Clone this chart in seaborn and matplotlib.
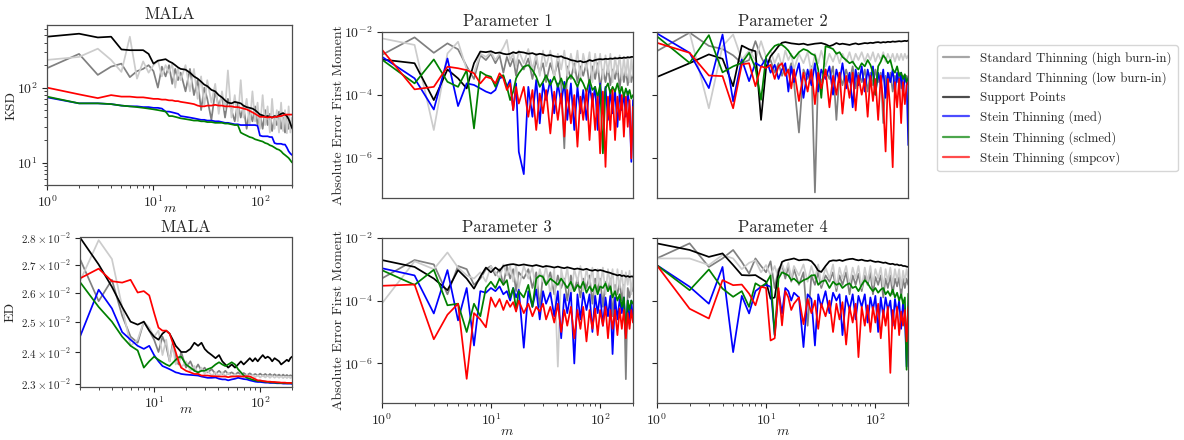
import numpy as np
import pandas as pd
import matplotlib
matplotlib.use("Agg")
import matplotlib.pyplot as plt
import seaborn as sns
from matplotlib.lines import Line2D
from matplotlib.ticker import FixedLocator, FixedFormatter, NullLocator, NullFormatter

# ---------------- data ----------------
METHODS = ["Standard Thinning (high burn-in)", "Standard Thinning (low burn-in)",
           "Support Points", "Stein Thinning (med)", "Stein Thinning (sclmed)",
           "Stein Thinning (smpcov)"]
COLORS = ["#808080", "#cccccc", "#000000", "#0000ff", "#008000", "#ff0000"]

# number of selected points m
M = [1, 2, 3, 4, 5, 6, 7, 8, 9, 10, 11, 12, 13, 14, 15, 16, 17, 18,
     20, 22, 24, 26, 28, 30, 32,
     35, 38, 41, 44, 47, 50,
     54, 58, 62, 66, 70,
     75, 80, 85, 90, 95, 100,
     106, 112, 118, 124, 130,
     137, 144, 151, 158, 165, 172, 179, 186, 193, 200]
M_ED = M[1:]

# KSD (MALA), log10 units
ksd_high = [2.26, 2.45, 2.17, 2.28, 2.32, 2.14, 2.22, 2.25, 2.3, 2.22, 2.0, 2.28, 2.15, 2.3, 2.05, 2.25, 2.1, 2.2,
            1.95, 2.25, 1.9, 2.1, 1.7, 2.0, 1.85,
            1.57, 1.95, 1.75, 1.9, 1.6, 1.85,
            1.7, 1.55, 1.8, 1.6, 1.75,
            1.45, 1.7, 1.55, 1.75, 1.5, 1.65,
            1.45, 1.7, 1.5, 1.65, 1.42,
            1.6, 1.5, 1.68, 1.45, 1.6, 1.4, 1.62, 1.45, 1.55, 1.45]
ksd_low = [2.37, 2.41, 2.52, 2.37, 2.21, 2.68, 2.12, 2.35, 2.2, 2.3, 2.36, 2.15, 2.3, 2.2, 2.32, 2.0, 2.25, 2.1,
           2.3, 1.95, 2.25, 1.85, 2.15, 1.75, 2.1,
           1.8, 2.05, 1.65, 1.95, 1.7, 2.23,
           1.6, 1.9, 1.55, 2.1, 1.6,
           1.85, 1.5, 1.95, 1.55, 1.8, 1.45,
           1.9, 1.5, 1.75, 1.4, 1.85,
           1.45, 1.7, 1.4, 1.8, 1.42, 1.7, 1.39, 1.75, 1.4, 1.6]
ksd_sp = [2.68, 2.72, 2.67, 2.68, 2.51, 2.5, 2.5, 2.5, 2.45, 2.32, 2.36, 2.37, 2.38, 2.35, 2.33, 2.3, 2.27, 2.25,
          2.24, 2.2, 2.15, 2.12, 2.08, 2.04, 2.02,
          1.97, 1.95, 1.9, 1.87, 1.83, 1.8,
          1.79, 1.81, 1.8, 1.79, 1.76,
          1.74, 1.73, 1.72, 1.7, 1.67, 1.64,
          1.63, 1.61, 1.62, 1.61, 1.6,
          1.62, 1.61, 1.63, 1.65, 1.66, 1.64, 1.62, 1.58, 1.52, 1.46]
ksd_med = [1.87, 1.79, 1.79, 1.78, 1.76, 1.75, 1.75, 1.74, 1.74, 1.73, 1.73, 1.72, 1.68, 1.68, 1.67, 1.66, 1.65, 1.62,
           1.61, 1.6, 1.59, 1.58, 1.57, 1.57, 1.56,
           1.56, 1.55, 1.55, 1.54, 1.53, 1.53,
           1.52, 1.51, 1.51, 1.5, 1.5,
           1.5, 1.5, 1.5, 1.5, 1.49, 1.36,
           1.35, 1.35, 1.35, 1.34, 1.34,
           1.26, 1.25, 1.25, 1.25, 1.24, 1.24, 1.2, 1.15, 1.12, 1.1]
ksd_sclmed = [1.88, 1.79, 1.79, 1.78, 1.76, 1.75, 1.74, 1.73, 1.72, 1.71, 1.7, 1.69, 1.68, 1.62, 1.62, 1.61, 1.6, 1.59,
              1.58, 1.57, 1.56, 1.56, 1.55, 1.55, 1.54,
              1.54, 1.53, 1.53, 1.53, 1.52, 1.52,
              1.51, 1.5, 1.5, 1.4, 1.38,
              1.36, 1.34, 1.33, 1.31, 1.3, 1.29,
              1.28, 1.26, 1.25, 1.23, 1.22,
              1.2, 1.18, 1.17, 1.15, 1.12, 1.1, 1.08, 1.06, 1.03, 1.0]
ksd_smpcov = [2.0, 1.91, 1.86, 1.9, 1.88, 1.88, 1.87, 1.87, 1.86, 1.85, 1.85, 1.84, 1.84, 1.83, 1.83, 1.82, 1.82, 1.81,
              1.8, 1.79, 1.78, 1.76, 1.75, 1.75, 1.76,
              1.76, 1.77, 1.76, 1.76, 1.75, 1.75,
              1.75, 1.74, 1.74, 1.73, 1.72,
              1.71, 1.69, 1.67, 1.65, 1.63, 1.61,
              1.61, 1.61, 1.6, 1.61, 1.6,
              1.61, 1.61, 1.62, 1.62, 1.63, 1.64, 1.64, 1.64, 1.64, 1.64]

# ED (MALA), in units of 1e-2, from m = 2
ed_high = [2.72, 2.57, 2.645, 2.52, 2.45, 2.43, 2.50, 2.47, 2.44, 2.40, 2.45, 2.42, 2.37, 2.43, 2.38, 2.36, 2.40,
           2.35, 2.37, 2.34, 2.36, 2.34, 2.35, 2.335,
           2.345, 2.33, 2.34, 2.33, 2.34, 2.33,
           2.335, 2.328, 2.335, 2.327, 2.333,
           2.326, 2.332, 2.326, 2.33, 2.325, 2.331,
           2.325, 2.33, 2.324, 2.33, 2.324,
           2.329, 2.324, 2.328, 2.323, 2.328, 2.323, 2.327, 2.323, 2.326, 2.324]
ed_low = [2.64, 2.79, 2.72, 2.55, 2.42, 2.44, 2.50, 2.48, 2.45, 2.47, 2.39, 2.44, 2.37, 2.42, 2.36, 2.38, 2.35,
          2.37, 2.34, 2.355, 2.33, 2.35, 2.33, 2.34,
          2.325, 2.335, 2.325, 2.335, 2.323, 2.333,
          2.322, 2.33, 2.322, 2.33, 2.32,
          2.328, 2.32, 2.327, 2.32, 2.326, 2.319,
          2.325, 2.319, 2.325, 2.318, 2.324,
          2.318, 2.323, 2.318, 2.323, 2.317, 2.322, 2.317, 2.322, 2.317, 2.32]
ed_sp = [2.80, 2.70, 2.62, 2.55, 2.50, 2.49, 2.50, 2.47, 2.45, 2.44, 2.46, 2.47, 2.46, 2.44, 2.42, 2.41, 2.40,
         2.40, 2.41, 2.43, 2.42, 2.43, 2.41, 2.40,
         2.39, 2.38, 2.39, 2.37, 2.36, 2.35,
         2.36, 2.35, 2.36, 2.37, 2.36,
         2.37, 2.38, 2.37, 2.38, 2.37, 2.38,
         2.39, 2.38, 2.385, 2.38, 2.37,
         2.38, 2.375, 2.37, 2.36, 2.365, 2.37, 2.375, 2.37, 2.38, 2.385]
ed_med = [2.45, 2.61, 2.545, 2.465, 2.44, 2.42, 2.41, 2.42, 2.39, 2.37, 2.355, 2.35, 2.345, 2.34, 2.335, 2.333, 2.33,
          2.328, 2.327, 2.326, 2.325, 2.322, 2.32, 2.318,
          2.318, 2.319, 2.315, 2.313, 2.313, 2.31,
          2.313, 2.315, 2.318, 2.316, 2.314,
          2.313, 2.31, 2.308, 2.306, 2.305, 2.305,
          2.304, 2.303, 2.303, 2.302, 2.302,
          2.302, 2.301, 2.301, 2.301, 2.300, 2.300, 2.300, 2.300, 2.300, 2.299]
ed_sclmed = [2.637, 2.55, 2.50, 2.45, 2.42, 2.405, 2.35, 2.37, 2.385, 2.375, 2.367, 2.36, 2.355, 2.365, 2.375, 2.383, 2.385,
             2.36, 2.35, 2.34, 2.335, 2.34, 2.34, 2.345,
             2.35, 2.36, 2.367, 2.36, 2.355, 2.36,
             2.367, 2.36, 2.345, 2.335, 2.325,
             2.318, 2.315, 2.312, 2.31, 2.308, 2.308,
             2.307, 2.306, 2.305, 2.304, 2.304,
             2.303, 2.303, 2.302, 2.302, 2.302, 2.302, 2.301, 2.301, 2.301, 2.301]
ed_smpcov = [2.65, 2.685, 2.64, 2.635, 2.645, 2.60, 2.605, 2.59, 2.53, 2.48, 2.47, 2.47, 2.46, 2.43, 2.40, 2.37, 2.35,
             2.34, 2.335, 2.33, 2.33, 2.325, 2.325, 2.325,
             2.323, 2.323, 2.322, 2.322, 2.322, 2.32,
             2.322, 2.322, 2.323, 2.322, 2.322,
             2.323, 2.322, 2.318, 2.314, 2.31, 2.31,
             2.308, 2.307, 2.306, 2.306, 2.305,
             2.305, 2.304, 2.304, 2.303, 2.303, 2.303, 2.302, 2.302, 2.302, 2.302]

# Absolute error of first moment, log10 units
p1_high = [-2.74, -2.18, -2.67, -2.37, -2.56, -3.1, -3.5, -2.75, -2.9, -2.7, -3.0, -2.75, -3.3, -2.8, -3.1, -2.85, -3.4, -2.9,
           -3.2, -2.85, -3.5, -2.9, -3.3, -3.0, -3.6,
           -3.0, -3.4, -2.95, -3.7, -5.7, -3.1,
           -3.5, -3.0, -3.6, -3.1, -3.4,
           -3.0, -3.7, -3.1, -3.5, -3.0, -3.8,
           -3.2, -3.6, -3.1, -3.7, -3.2,
           -3.5, -3.1, -3.8, -3.2, -3.6, -3.2, -3.7, -3.3, -3.6, -3.3]
p1_low = [-2.21, -2.42, -5.12, -2.69, -2.32, -3.2, -3.3, -2.7, -2.8, -2.65, -2.9, -2.7, -2.5, -2.26, -2.9, -2.7, -3.1, -2.6,
          -3.0, -2.55, -3.2, -2.7, -3.4, -2.6, -3.1,
          -2.6, -3.5, -2.7, -3.2, -2.6, -3.4,
          -2.7, -3.3, -2.6, -3.5, -2.7,
          -3.2, -2.65, -3.6, -2.7, -3.3, -2.7,
          -3.5, -2.75, -3.3, -2.7, -3.6,
          -2.8, -3.3, -2.75, -3.5, -2.8, -3.4, -2.8, -3.6, -2.85, -3.4]
p1_sp = [-2.88, -3.0, -4.17, -3.2, -3.48, -3.8, -3.0, -2.63, -2.65, -2.62, -2.68, -2.66, -2.7, -2.72, -2.7, -2.65, -2.68, -2.64,
         -2.66, -2.7, -2.68, -2.73, -2.7, -2.72, -2.76,
         -2.74, -2.78, -2.8, -2.78, -2.83, -2.85,
         -2.9, -2.92, -2.95, -2.93, -2.97,
         -2.95, -2.9, -2.93, -2.9, -2.88, -2.87,
         -2.88, -2.86, -2.87, -2.85, -2.86,
         -2.84, -2.85, -2.83, -2.84, -2.82, -2.83, -2.81, -2.82, -2.8, -2.8]
p1_med = [-2.79, -3.48, -4.47, -2.85, -4.36, -3.64, -3.69, -3.80, -3.90, -3.96, -3.85, -3.48, -3.43, -3.75, -3.53, -4.49, -3.64, -5.81,
          -6.52, -3.75, -4.70, -3.53, -4.91, -3.64, -4.17,
          -3.53, -4.59, -3.64, -4.28, -3.59, -4.80,
          -3.64, -5.12, -3.75, -4.59, -3.85,
          -4.80, -3.69, -4.28, -3.75, -5.12, -3.64,
          -4.49, -3.75, -4.80, -3.85, -4.59,
          -3.85, -5.02, -3.90, -4.49, -3.96, -4.70, -3.90, -4.38, -6.13, -4.17]
p1_sclmed = [-2.88, -3.64, -2.88, -3.59, -3.75, -3.22, -5.07, -3.27, -3.38, -3.43, -3.75, -3.43, -3.38, -3.75, -4.17, -3.90, -3.48, -3.32,
             -3.11, -3.06, -3.22, -3.43, -3.75, -3.59, -3.38,
             -3.69, -3.43, -3.75, -3.48, -3.80, -3.53,
             -3.38, -3.53, -3.75, -3.48, -3.64,
             -3.90, -3.53, -3.85, -3.75, -4.07, -3.69,
             -5.86, -3.80, -3.64, -3.96, -3.75,
             -3.90, -3.64, -3.96, -3.75, -4.07, -3.80, -4.01, -3.85, -4.12, -4.01]
p1_smpcov = [-2.56, -3.83, -3.75, -3.11, -3.16, -3.22, -3.32, -3.64, -3.43, -3.48, -3.64, -3.32, -3.48, -3.85, -3.64, -4.49, -3.75, -4.28,
             -3.75, -4.70, -3.85, -5.12, -3.96, -4.59, -3.85,
             -5.23, -3.90, -4.80, -3.96, -5.33, -3.85,
             -4.91, -4.01, -5.65, -4.06, -4.80,
             -3.85, -5.44, -3.96, -5.12, -4.06, -5.86,
             -3.90, -6.29, -4.06, -5.12, -3.85,
             -5.44, -4.06, -4.80, -4.01, -5.33, -4.06, -5.02, -4.17, -6.02, -4.38]

p2_high = [-2.62, -2.03, -2.45, -2.55, -2.75, -3.0, -2.9, -2.3, -2.8, -3.1, -2.9, -3.3, -3.0, -3.4, -3.1, -3.3, -3.0, -3.6,
           -5.2, -3.2, -3.5, -3.1, -7.1, -3.3, -3.6,
           -3.2, -3.5, -3.1, -4.8, -3.3, -3.7,
           -3.2, -3.6, -3.1, -3.8, -3.3,
           -3.6, -3.2, -3.9, -3.3, -3.7, -3.2,
           -3.6, -3.3, -4.9, -3.4, -3.7,
           -3.3, -3.9, -3.4, -3.6, -3.3, -3.8, -3.4, -3.6, -3.4, -3.5]
p2_low = [-2.03, -2.03, -4.43, -2.46, -2.09, -2.88, -2.6, -2.9, -2.3, -2.8, -2.6, -3.0, -2.7, -3.1, -2.6, -2.9, -2.7, -3.2,
          -2.7, -3.0, -2.65, -3.3, -2.7, -3.0, -2.6,
          -3.1, -2.7, -2.95, -2.65, -3.0, -2.7,
          -2.95, -2.65, -3.0, -2.7, -2.9,
          -2.65, -2.95, -2.7, -2.9, -2.65, -2.95,
          -2.7, -2.9, -2.65, -2.95, -2.7,
          -2.9, -2.7, -2.95, -2.7, -2.9, -2.7, -2.9, -2.7, -2.85, -2.75]
p2_sp = [-3.44, -3.0, -2.72, -2.86, -3.73, -2.44, -2.56, -2.62, -4.8, -3.15, -2.78, -2.62, -2.46, -2.35, -2.33, -2.35, -2.37, -2.38,
         -2.4, -2.38, -2.42, -2.4, -2.38, -2.37, -2.36,
         -2.4, -2.46, -2.42, -2.36, -2.4, -2.38,
         -2.4, -2.42, -2.39, -2.37, -2.4,
         -2.38, -2.36, -2.37, -2.35, -2.36, -2.34,
         -2.33, -2.35, -2.33, -2.34, -2.32,
         -2.33, -2.31, -2.32, -2.31, -2.3, -2.31, -2.3, -2.29, -2.3, -2.28]
p2_med = [-2.05, -2.67, -3.79, -2.09, -4.21, -2.88, -3.57, -2.99, -3.1, -2.85, -3.3, -3.05, -3.5, -3.2, -3.0, -3.9, -3.1, -3.6,
          -3.0, -4.1, -3.2, -3.7, -3.0, -3.9, -3.2,
          -3.5, -3.1, -4.0, -3.2, -3.6, -3.0,
          -3.8, -3.3, -4.4, -3.2, -3.7,
          -3.1, -3.9, -3.2, -3.6, -3.1, -4.0,
          -3.3, -3.7, -3.2, -4.1, -3.3,
          -3.6, -3.2, -3.9, -3.3, -3.7, -3.3, -4.0, -3.4, -3.6, -5.6]
p2_sclmed = [-2.14, -2.99, -2.11, -3.29, -3.1, -2.99, -2.67, -3.15, -4.16, -2.8, -2.6, -2.45, -2.4, -2.42, -2.5, -2.6, -2.75, -2.85,
             -2.65, -2.55, -2.6, -2.7, -2.75, -3.2, -4.1,
             -2.46, -2.5, -2.55, -2.7, -2.65, -2.8,
             -2.9, -3.0, -2.95, -3.1, -3.2,
             -3.0, -3.1, -2.9, -3.05, -3.3, -4.0,
             -3.1, -2.95, -2.75, -2.85, -3.0,
             -2.9, -3.2, -3.3, -3.1, -3.4, -3.3, -3.5, -3.35, -3.6, -3.47]
p2_smpcov = [-2.35, -2.67, -3.39, -3.41, -4.43, -3.04, -3.0, -3.73, -3.1, -3.15, -3.05, -3.5, -3.1, -3.0, -3.4, -3.2, -3.8, -3.2,
             -4.2, -3.3, -3.9, -3.2, -4.3, -3.3, -3.8,
             -3.2, -4.4, -3.4, -4.0, -3.3, -4.6,
             -3.4, -4.1, -3.3, -4.5, -3.4,
             -4.0, -3.5, -4.7, -3.4, -4.2, -3.5,
             -4.8, -3.4, -4.3, -5.8, -3.5,
             -4.5, -6.3, -3.6, -4.4, -3.5, -4.9, -3.6, -4.3, -3.7, -3.6]

p3_high = [-3.3, -2.71, -2.85, -3.8, -2.9, -3.0, -3.5, -3.3, -3.0, -2.9, -3.2, -3.0, -3.5, -2.9, -3.3, -3.0, -3.7, -3.1,
           -3.3, -3.0, -3.6, -3.1, -4.2, -3.2, -3.5,
           -3.1, -3.8, -3.2, -3.6, -3.3, -4.0,
           -3.2, -3.7, -3.3, -3.9, -3.3,
           -3.6, -3.2, -4.1, -3.3, -3.7, -3.3,
           -4.2, -3.4, -3.7, -3.3, -4.5,
           -3.5, -3.8, -3.4, -4.0, -3.5, -6.5, -3.6, -3.9, -3.5, -3.7]
p3_low = [-4.1, -2.75, -3.0, -2.47, -2.95, -3.2, -3.3, -3.1, -3.4, -2.9, -3.1, -3.3, -2.85, -3.2, -2.9, -3.4, -2.85, -3.6,
          -2.9, -3.3, -2.95, -3.7, -3.0, -3.4, -2.9,
          -3.8, -3.0, -6.1, -3.0, -3.5, -2.95,
          -3.9, -3.0, -3.4, -2.9, -3.7,
          -3.0, -3.5, -2.95, -4.0, -3.0, -3.6,
          -2.95, -3.8, -3.0, -3.5, -3.0,
          -4.1, -3.0, -3.6, -3.05, -3.9, -3.1, -3.5, -3.05, -3.8, -3.2]
p3_sp = [-2.71, -2.93, -3.3, -3.67, -3.03, -3.3, -3.62, -3.24, -2.95, -3.1, -2.95, -3.05, -2.9, -2.87, -2.85, -2.84, -2.86, -2.88,
         -2.85, -2.88, -2.9, -2.87, -2.9, -2.93, -2.9,
         -2.92, -2.95, -2.92, -2.95, -2.97, -2.94,
         -2.97, -3.0, -2.98, -3.0, -3.02,
         -2.99, -3.03, -3.05, -3.02, -3.05, -3.03,
         -3.05, -3.08, -3.1, -3.12, -3.15,
         -3.17, -3.2, -3.18, -3.22, -3.2, -3.24, -3.22, -3.25, -3.23, -3.24]
p3_med = [-2.97, -3.2, -4.41, -3.03, -4.63, -3.6, -5.43, -3.7, -3.75, -3.6, -3.7, -3.55, -3.8, -3.7, -4.0, -3.6, -3.9, -3.65,
          -5.5, -3.7, -4.2, -3.65, -4.6, -3.7, -4.1,
          -3.75, -4.5, -3.7, -5.2, -3.8, -4.4,
          -3.75, -6.0, -3.8, -4.6, -3.75,
          -4.3, -3.8, -5.0, -3.85, -4.4, -3.8,
          -4.8, -3.9, -4.5, -3.85, -5.7,
          -3.9, -4.6, -3.95, -4.4, -3.9, -5.1, -4.0, -4.7, -4.0, -4.6]
p3_sclmed = [-3.03, -3.5, -3.02, -4.15, -4.1, -5.0, -4.1, -4.5, -3.6, -3.4, -3.6, -3.3, -3.5, -3.35, -3.9, -3.6, -4.3, -3.7,
             -3.9, -3.5, -4.2, -3.3, -3.2, -3.25, -3.5,
             -3.3, -3.4, -3.5, -3.3, -3.45, -3.6,
             -3.4, -3.7, -3.5, -3.6, -3.4,
             -3.75, -3.55, -3.7, -3.5, -3.8, -3.55,
             -3.6, -3.45, -3.7, -3.55, -3.9,
             -3.7, -4.0, -3.8, -4.2, -3.9, -5.1, -4.0, -4.3, -4.0, -4.1]
p3_smpcov = [-3.53, -3.49, -5.23, -4.45, -4.1, -6.49, -4.4, -4.6, -4.85, -3.9, -4.2, -3.95, -4.3, -4.0, -4.2, -4.05, -4.35, -4.0,
             -4.4, -4.1, -4.5, -4.2, -4.35, -4.1, -4.6,
             -4.2, -4.7, -4.1, -5.0, -4.3, -4.8,
             -4.2, -5.2, -4.3, -4.9, -4.2,
             -5.3, -4.3, -4.9, -4.25, -5.1, -4.3,
             -4.8, -4.2, -5.2, -4.3, -4.9,
             -4.3, -5.1, -4.25, -4.9, -4.3, -5.2, -4.4, -4.9, -4.3, -4.7]

p4_high = [-2.66, -2.18, -2.93, -2.66, -2.39, -2.77, -3.14, -2.66, -2.9, -3.1, -2.75, -3.6, -3.0, -2.85, -3.3, -2.9, -3.4, -3.0,
           -3.5, -3.1, -4.8, -3.2, -3.5, -3.1, -3.6,
           -3.2, -3.4, -3.1, -3.7, -3.2, -3.5,
           -3.1, -3.8, -3.2, -3.5, -3.15,
           -3.7, -3.2, -3.5, -3.1, -3.8, -3.25,
           -3.5, -3.2, -3.9, -3.3, -3.6,
           -3.2, -3.8, -3.3, -3.55, -3.25, -3.9, -3.3, -3.6, -3.3, -3.5]
p4_low = [-2.66, -2.66, -2.87, -2.55, -2.66, -3.0, -2.8, -2.72, -3.1, -2.87, -3.2, -2.9, -3.3, -2.85, -3.1, -2.8, -3.3, -2.9,
          -3.2, -2.85, -3.4, -2.9, -3.3, -2.85, -3.5,
          -2.95, -3.3, -2.85, -3.6, -2.95, -3.3,
          -2.9, -3.5, -2.95, -3.3, -2.9,
          -3.6, -2.95, -3.4, -2.9, -3.5, -3.0,
          -3.3, -2.95, -3.6, -3.0, -3.4,
          -2.95, -3.5, -3.0, -3.35, -3.0, -3.6, -3.05, -3.4, -3.0, -3.3]
p4_sp = [-2.18, -2.39, -2.61, -2.5, -2.87, -3.19, -3.2, -3.19, -3.3, -3.4, -3.94, -3.9, -3.1, -2.77, -2.72, -2.7, -2.68, -2.66,
         -2.72, -2.7, -2.7, -2.75, -2.88, -3.05, -3.09,
         -2.9, -2.75, -2.72, -2.73, -2.71, -2.74,
         -2.7, -2.68, -2.67, -2.7, -2.72,
         -2.7, -2.73, -2.74, -2.72, -2.75, -2.77,
         -2.76, -2.78, -2.8, -2.79, -2.82,
         -2.84, -2.83, -2.86, -2.85, -2.88, -2.87, -2.9, -2.9, -2.92, -2.93]
p4_med = [-2.87, -3.56, -4.1, -2.93, -5.64, -3.85, -4.41, -3.7, -3.56, -3.5, -3.56, -5.1, -3.7, -4.41, -3.6, -3.7, -4.0, -3.75,
          -3.9, -5.48, -3.8, -3.95, -5.43, -3.8, -4.2,
          -3.7, -4.4, -3.75, -4.0, -3.8, -5.1,
          -3.85, -4.3, -3.8, -4.6, -3.85,
          -4.2, -3.8, -4.7, -3.9, -4.3, -3.85,
          -5.0, -3.9, -4.5, -3.9, -4.3,
          -4.0, -4.8, -3.95, -4.4, -4.0, -4.9, -4.05, -4.5, -6.1, -4.3]
p4_sclmed = [-2.87, -3.67, -3.01, -3.62, -3.88, -3.7, -4.2, -3.45, -3.56, -3.45, -3.2, -5.1, -3.3, -3.1, -3.15, -3.2, -3.35, -3.3,
             -3.45, -3.35, -3.3, -3.2, -3.19, -3.5, -3.4,
             -3.35, -3.6, -3.4, -3.5, -3.45, -3.6,
             -3.5, -3.45, -3.6, -3.55, -3.7,
             -3.5, -3.35, -3.45, -3.6, -3.7, -3.6,
             -3.75, -3.65, -3.6, -3.8, -3.7,
             -3.85, -3.65, -3.9, -3.75, -4.0, -3.8, -4.1, -3.9, -6.2, -3.78]
p4_smpcov = [-2.87, -4.26, -4.57, -3.35, -3.51, -3.49, -3.78, -4.15, -3.56, -3.6, -5.27, -5.2, -3.6, -4.79, -3.7, -3.9, -4.3, -4.1,
             -3.9, -4.75, -3.95, -4.4, -4.0, -4.9, -4.1,
             -4.5, -4.0, -5.0, -4.1, -4.6, -4.05,
             -5.4, -4.2, -4.7, -4.1, -5.8,
             -4.2, -4.8, -4.15, -5.0, -4.2, -4.7,
             -4.1, -5.2, -4.3, -4.8, -4.2,
             -6.3, -4.3, -4.9, -4.2, -5.1, -4.35, -4.8, -4.3, -5.3, -4.2]

PARAM_TITLES = ["Parameter 1", "Parameter 2", "Parameter 3", "Parameter 4"]
ED_TICKS = [2.3, 2.4, 2.5, 2.6, 2.7, 2.8]   # x 1e-2


def long_df(m, series, scale):
    vals = np.concatenate([scale(np.asarray(s, dtype=float)) for s in series])
    return pd.DataFrame({"m": np.tile(np.asarray(m, dtype=float), len(series)),
                         "value": vals,
                         "method": np.repeat(METHODS, len(m))})


from_log = lambda a: np.power(10.0, a)
from_pct = lambda a: a * 1e-2

# ---------------- style ----------------
sns.set_style("ticks")
plt.rcParams.update({
    "font.family": "serif",
    "font.serif": ["cmr10", "DejaVu Serif"],
    "mathtext.fontset": "cm",
    "axes.formatter.use_mathtext": True,
    "axes.edgecolor": "0.3",
    "axes.linewidth": 0.9,
    "xtick.color": "0.15", "ytick.color": "0.15",
    "xtick.major.size": 3.5, "ytick.major.size": 3.5,
    "xtick.minor.size": 2.0, "ytick.minor.size": 2.0,
    "xtick.major.width": 0.8, "ytick.major.width": 0.8,
    "xtick.minor.width": 0.6, "ytick.minor.width": 0.6,
    "xtick.labelsize": 10, "ytick.labelsize": 10,
    "xtick.major.pad": 3, "ytick.major.pad": 3,
    "axes.labelsize": 10, "axes.titlesize": 12,
})
palette = dict(zip(METHODS, COLORS))

W, H = 1184, 440
fig = plt.figure(figsize=(W / 100, H / 100), dpi=100)


def add_ax(l, t, r, b):
    return fig.add_axes([l / W, 1 - b / H, (r - l) / W, (b - t) / H])


def draw(ax, df):
    sns.lineplot(data=df, x="m", y="value", hue="method", hue_order=METHODS,
                 palette=palette, estimator=None, sort=False, legend=False,
                 linewidth=1.25, ax=ax)
    ax.set_xscale("log")
    ax.set_yscale("log")


# KSD panel
ax_k = add_ax(47, 25, 292, 185.5)
draw(ax_k, long_df(M, [ksd_high, ksd_low, ksd_sp, ksd_med, ksd_sclmed, ksd_smpcov], from_log))
ax_k.set_xlim(1, 200)
ax_k.set_ylim(4.93, 686)
ax_k.set_title("MALA", pad=4)
ax_k.set_ylabel("KSD")
ax_k.set_xlabel("$m$")
ax_k.yaxis.set_label_coords(-0.122, 0.5)
ax_k.xaxis.set_label_coords(0.5, -0.11)

# ED panel
ax_e = add_ax(80, 237.5, 292, 386.5)
draw(ax_e, long_df(M_ED, [ed_high, ed_low, ed_sp, ed_med, ed_sclmed, ed_smpcov], from_pct))
ax_e.set_xlim(2, 200)
ax_e.set_ylim(0.02291, 0.028)
ax_e.yaxis.set_major_locator(FixedLocator([t * 1e-2 for t in ED_TICKS]))
ax_e.yaxis.set_major_formatter(FixedFormatter([r"$%.1f\times10^{-2}$" % t for t in ED_TICKS]))
ax_e.yaxis.set_minor_locator(NullLocator())
ax_e.yaxis.set_minor_formatter(NullFormatter())
ax_e.tick_params(axis="y", labelsize=8)
ax_e.set_title("MALA", pad=4)
ax_e.set_ylabel("ED")
ax_e.set_xlabel("$m$")
ax_e.yaxis.set_label_coords(-0.297, 0.5)
ax_e.xaxis.set_label_coords(0.5, -0.12)

# Parameter panels
param_data = [
    [p1_high, p1_low, p1_sp, p1_med, p1_sclmed, p1_smpcov],
    [p2_high, p2_low, p2_sp, p2_med, p2_sclmed, p2_smpcov],
    [p3_high, p3_low, p3_sp, p3_med, p3_sclmed, p3_smpcov],
    [p4_high, p4_low, p4_sp, p4_med, p4_sclmed, p4_smpcov],
]
boxes = [(381.7, 31.7, 633, 197.7), (656.7, 31.7, 908.3, 197.7),
         (381.7, 237.7, 633, 403.3), (656.7, 237.7, 908.3, 403.3)]
for i, (series, box) in enumerate(zip(param_data, boxes)):
    ax = add_ax(*box)
    draw(ax, long_df(M, series, from_log))
    ax.set_xlim(1, 200)
    ax.set_ylim(5.4e-8, 1e-2)
    ax.yaxis.set_major_locator(FixedLocator([1e-6, 1e-4, 1e-2]))
    ax.yaxis.set_minor_locator(NullLocator())
    ax.set_title(PARAM_TITLES[i], pad=4)
    if i < 2:
        ax.tick_params(axis="x", which="both", bottom=False, labelbottom=False)
        ax.set_xlabel("")
    else:
        ax.set_xlabel("$m$")
        ax.xaxis.set_label_coords(0.5, -0.135)
    if i % 2 == 1:
        ax.tick_params(axis="y", which="both", labelleft=False)
        ax.set_ylabel("")
    else:
        ax.set_ylabel("Absolute Error First Moment")
        ax.yaxis.set_label_coords(-0.146, 0.5)

handles = [Line2D([0], [0], color=c, lw=1.6, alpha=0.7) for c in COLORS]
fig.legend(handles, METHODS, loc="upper left", bbox_to_anchor=(937 / W, 1 - 45 / H),
           borderaxespad=0, fontsize=9.3, frameon=True, handlelength=2.0,
           labelspacing=0.5, borderpad=0.5, handletextpad=0.8)

fig.savefig("out.png", dpi=100)
